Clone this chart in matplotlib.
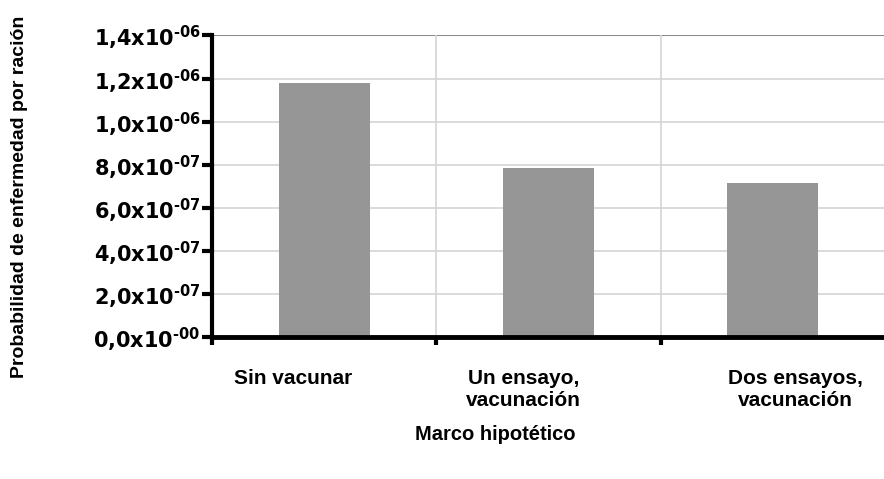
import matplotlib
matplotlib.use("Agg")
import matplotlib.pyplot as plt

# Probability of illness per serving under each scenario
categories = ["Sin vacunar", "Un ensayo,\nvacunación", "Dos ensayos,\nvacunación"]
probabilities = [1.18e-6, 0.785e-6, 0.715e-6]

ytick_values = [0.0, 0.2e-6, 0.4e-6, 0.6e-6, 0.8e-6, 1.0e-6, 1.2e-6, 1.4e-6]
ytick_labels = ["0,0x10$^{\u201000}$", "2,0x10$^{\u201007}$", "4,0x10$^{\u201007}$",
                "6,0x10$^{\u201007}$", "8,0x10$^{\u201007}$", "1,0x10$^{\u201006}$",
                "1,2x10$^{\u201006}$", "1,4x10$^{\u201006}$"]

plt.rcParams["mathtext.fontset"] = "custom"
plt.rcParams["mathtext.rm"] = "DejaVu Sans:bold"
plt.rcParams["mathtext.default"] = "regular"

fig = plt.figure(figsize=(8.84, 4.79), dpi=100)
ax = fig.add_axes([0.2398, 0.2965, 0.7613, 0.6294])

positions = [i + 0.5 for i in range(len(categories))]
ax.bar(positions, probabilities, width=0.405, color="#969696", zorder=2)

ax.set_xlim(0, 3)
ax.set_ylim(0, 1.4e-6)

# gridlines
for v in ytick_values[1:-1]:
    ax.axhline(v, color="#d4d4d4", lw=1.2, zorder=1)
ax.axhline(1.4e-6, color="#8c8c8c", lw=1.5, zorder=1)
for xb in [1, 2]:
    ax.axvline(xb, color="#d4d4d4", lw=1.2, zorder=1)

for s in ["top", "right"]:
    ax.spines[s].set_visible(False)
ax.spines["left"].set_linewidth(3)
ax.spines["bottom"].set_linewidth(3.5)
ax.spines["left"].set_zorder(3)
ax.spines["bottom"].set_zorder(3)

ax.set_yticks(ytick_values)
ax.set_yticklabels(ytick_labels, fontfamily="DejaVu Sans", fontweight="bold", fontsize=15)
ax.tick_params(axis="y", direction="out", length=7, width=3, pad=1)

ax.set_xticks([0, 1, 2])
ax.set_xticklabels([])
ax.tick_params(axis="x", direction="out", length=6, width=3)

# category labels sit below the axis
label_x = [0.36, 1.39, 2.6]
for x, lab in zip(label_x, categories):
    ax.text(x, -0.15e-6, lab, ha="center", va="top", multialignment="center",
            fontfamily="Liberation Sans", fontweight="bold", fontsize=15,
            linespacing=1.2)

fig.text(495 / 884, 1 - 435 / 479, "Marco hipotético", ha="center", va="center",
         fontfamily="Liberation Sans", fontweight="bold", fontsize=14.5)
fig.text(20 / 884, 1 - 197 / 479, "Probabilidad de enfermedad por ración",
         rotation=90, ha="center", va="center",
         fontfamily="Liberation Sans", fontweight="bold", fontsize=14)

fig.savefig("out.png", dpi=100)
